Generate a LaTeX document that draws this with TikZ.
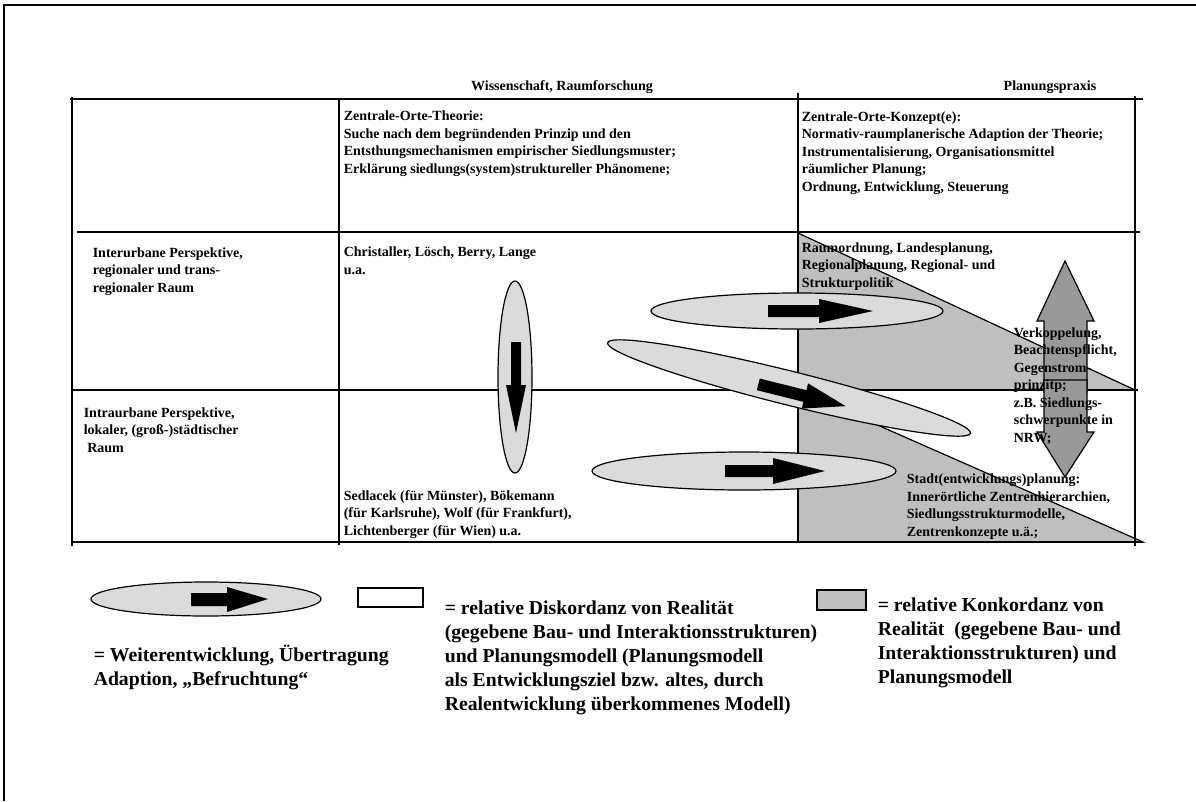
\documentclass[tikz,border=0pt]{standalone}
\usepackage{fontspec}
\setmainfont{Liberation Serif}
\begin{document}
\begin{tikzpicture}[x=1pt,y=-1pt,line width=1.6pt,
  celltext/.style={anchor=base west,align=left,inner sep=0pt,font=\fontsize{14}{17.5}\selectfont\bfseries},
  headtext/.style={anchor=base,inner sep=0pt,font=\fontsize{14}{17.5}\selectfont\bfseries},
  legtext/.style={anchor=base west,align=left,inner sep=0pt,font=\fontsize{19.7}{24}\selectfont\bfseries},
  bubble/.style={draw=black,fill=black!14,line width=1.2pt},
  konkordanz/.style={draw=black,fill=black!25,line width=1.2pt},
  bigarrow/.style={draw=black,fill=black!40,line width=1.2pt}]

\useasboundingbox (0,0) rectangle (1196,801);

% frame
\draw[line width=2.4pt] (4,801) -- (4,5) -- (1196,5);

% Konkordanz triangles
\draw[konkordanz] (798,233) -- (798,390) -- (1135,390) -- cycle;
\draw[konkordanz] (798,390) -- (798,542) -- (1143,542) -- cycle;

% table
\draw (70,99) -- (1143,99);
\draw (77,232) -- (1140,232);
\draw (72,390) -- (1138,390);
\draw (72,542) -- (1143,542);
\draw (72,97) -- (72,546);
\draw (339,99) -- (339,545);
\draw (798,93) -- (798,542);
\draw (1135,96) -- (1135,546);

% bubbles with arrows
\draw[bubble] (515,377) ellipse [x radius=17,y radius=96];
\fill (511,342) -- (521,342) -- (521,385) -- (526,385) -- (516,433) -- (506,385) -- (511,385) -- cycle;

\draw[bubble] (797,311) ellipse [x radius=146,y radius=18];
\fill (768,305) -- (819,305) -- (819,299) -- (873,311) -- (819,323) -- (819,317) -- (768,317) -- cycle;

\draw[bubble,rotate around={-14:(789,388)}] (789,388) ellipse [x radius=187,y radius=17];
\begin{scope}[shift={(801,395)},rotate=-14]
\fill (-44,-6) -- (4,-6) -- (4,-13) -- (46,0) -- (4,13) -- (4,6) -- (-44,6) -- cycle;
\end{scope}

\draw[bubble] (744,471) ellipse [x radius=152,y radius=19];
\fill (725,465) -- (773,465) -- (773,458) -- (825,471) -- (773,484) -- (773,477) -- (725,477) -- cycle;

% Gegenstrom arrow
\draw[bigarrow] (1044,392) -- (1044,321) -- (1037,321) -- (1065,261) -- (1094,321) -- (1087,321) -- (1087,392) -- cycle;
\draw[bigarrow] (1044,380) -- (1044,432) -- (1037,432) -- (1065,477) -- (1094,432) -- (1087,432) -- (1087,380) -- cycle;

% headings
\node[headtext] (wiss) at (562,90) {Wissenschaft, Raumforschung};
\node[headtext] (praxis) at (1050,90) {Planungspraxis};

% cells (anchored at the baseline of the last line)
\node[celltext] (theorie) at (343,173) {Zentrale-Orte-Theorie:\\Suche nach dem begründenden Prinzip und den\\Entsthungsmechanismen empirischer Siedlungsmuster;\\Erklärung siedlungs(system)struktureller Phänomene;};
\node[celltext] (konzept) at (801,191) {Zentrale-Orte-Konzept(e):\\Normativ-raumplanerische Adaption der Theorie;\\Instrumentalisierung, Organisationsmittel\\räumlicher Planung;\\Ordnung, Entwicklung, Steuerung};
\node[celltext] (inter) at (92,292) {Interurbane Perspektive,\\regionaler und trans-\\regionaler Raum};
\node[celltext] (christaller) at (343,274) {Christaller, Lösch, Berry, Lange\\u.a.};
\node[celltext] (raumordnung) at (801,287) {Raumordnung, Landesplanung,\\Regionalplanung, Regional- und\\Strukturpolitik};
\node[celltext] (intra) at (83,452) {Intraurbane Perspektive,\\lokaler, (groß-)städtischer\\\hspace*{3.5pt}Raum};
\node[celltext] (sedlacek) at (343,535) {Sedlacek (für Münster), Bökemann\\(für Karlsruhe), Wolf (für Frankfurt),\\Lichtenberger (für Wien) u.a.};
\node[celltext] (stadt) at (906,536) {Stadt(entwicklungs)planung:\\Innerörtliche Zentrenhierarchien,\\Siedlungsstrukturmodelle,\\Zentrenkonzepte u.ä.;};
\node[celltext] (verkoppelung) at (1013,442) {Verkoppelung,\\Beachtenspflicht,\\Gegenstrom-\\prinzitp;\\z.B. Siedlungs-\\schwerpunkte in\\NRW;};

% legend
\draw[bubble] (206,599) ellipse [x radius=115,y radius=17];
\fill (191,593) -- (227,593) -- (227,587) -- (268,599) -- (227,612) -- (227,606) -- (191,606) -- cycle;
\draw[line width=1.2pt] (358,588) rectangle (423,607);
\draw[konkordanz] (817,590) rectangle (866,610);

\node[legtext] (legbubble) at (93,685) {= Weiterentwicklung, Übertragung\\Adaption, „Befruchtung“};
\node[legtext] (legdis) at (444,710) {= relative Diskordanz von Realität\\(gegebene Bau- und Interaktionsstrukturen)\\und Planungsmodell (Planungsmodell\\als Entwicklungsziel bzw. altes, durch\\Realentwicklung überkommenes Modell)};
\node[legtext] (legkon) at (877,683) {= relative Konkordanz von\\Realität\ \ (gegebene Bau- und\\Interaktionsstrukturen) und\\Planungsmodell};

\end{tikzpicture}
\end{document}
